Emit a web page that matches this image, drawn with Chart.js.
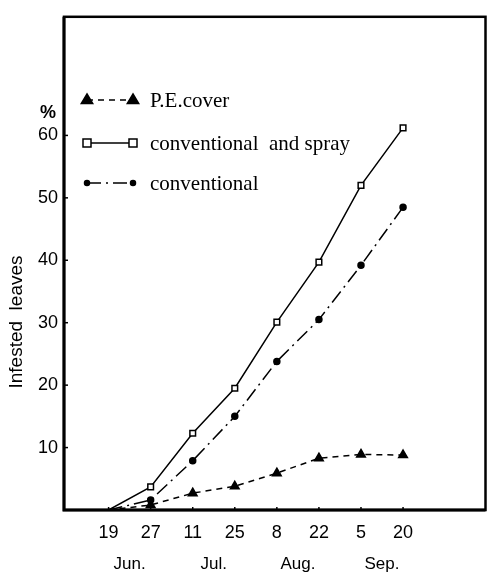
<!DOCTYPE html>
<html lang="en">
<head>
  <meta charset="UTF-8">
  <title>Infested leaves</title>
  <script src="https://cdn.jsdelivr.net/npm/chart.js"></script>
  <style>
    html, body {
      margin: 0;
      padding: 0;
      background: #fff;
    }

    .chart-container {
      position: relative;
      width: 492px;
      height: 575px;
    }
  </style>
</head>
<body>
  <div class="chart-container">
    <canvas id="leafChart"></canvas>
  </div>

  <script>
    // data
    const dayLabels = ['19', '27', '11', '25', '8', '22', '5', '20'];
    const monthLabels = ['Jun.', 'Jul.', 'Aug.', 'Sep.'];
    const yTicks = [10, 20, 30, 40, 50, 60];
    const peCover = [0, 0.8, 2.7, 3.8, 5.9, 8.3, 8.9, 8.8];
    const convSpray = [0, 3.7, 12.3, 19.5, 30.1, 39.7, 52.0, 61.2];
    const conventional = [0, 1.6, 7.9, 15.0, 23.8, 30.5, 39.2, 48.5];

    const sans = "'Liberation Sans', 'DejaVu Sans', sans-serif";
    const serif = "'Liberation Serif', 'DejaVu Serif', serif";

    const toPoints = arr => arr.map((v, i) => ({ x: i, y: v }));
    const firstHidden = (r) => dayLabels.map((_, i) => i === 0 ? 0 : r);

    function drawMarker(ctx, style, x, y, r, fill) {
      ctx.save();
      ctx.setLineDash([]);
      ctx.lineWidth = 1.5;
      ctx.strokeStyle = '#000';
      ctx.fillStyle = fill;
      ctx.beginPath();
      if (style === 'triangle') {
        ctx.moveTo(x, y - r);
        ctx.lineTo(x + r * 0.95, y + r * 0.6);
        ctx.lineTo(x - r * 0.95, y + r * 0.6);
        ctx.closePath();
      } else if (style === 'rect') {
        ctx.rect(x - r, y - r, r * 2, r * 2);
      } else {
        ctx.arc(x, y, r, 0, Math.PI * 2);
      }
      ctx.fill();
      ctx.stroke();
      ctx.restore();
    }

    // box frame, inner ticks, axis title, "%" and the legend inside the plot
    const decorations = {
      id: 'decorations',
      afterDraw(chart) {
        const { ctx, chartArea: a, scales } = chart;
        ctx.save();
        ctx.strokeStyle = '#000';
        ctx.lineWidth = 2.5;
        ctx.strokeRect(a.left, a.top, a.right - a.left, a.bottom - a.top);
        ctx.lineWidth = 3;
        ctx.beginPath();
        ctx.moveTo(a.left, a.top);
        ctx.lineTo(a.left, a.bottom);
        ctx.lineTo(a.right, a.bottom);
        ctx.stroke();

        ctx.lineWidth = 1.5;
        yTicks.forEach(v => {
          const y = scales.y.getPixelForValue(v);
          ctx.beginPath();
          ctx.moveTo(a.left, y);
          ctx.lineTo(a.left + 4, y);
          ctx.stroke();
        });
        dayLabels.forEach((_, i) => {
          const x = scales.x.getPixelForValue(i);
          ctx.beginPath();
          ctx.moveTo(x, a.bottom);
          ctx.lineTo(x, a.bottom - 3);
          ctx.stroke();
        });

        ctx.fillStyle = '#000';
        ctx.font = '19px ' + sans;
        ctx.textAlign = 'center';
        ctx.textBaseline = 'middle';
        ctx.save();
        ctx.translate(17, 322);
        ctx.rotate(-Math.PI / 2);
        ctx.fillText('Infested  leaves', 0, 0);
        ctx.restore();

        ctx.font = 'bold 18px ' + sans;
        ctx.fillText('%', 48, 113);

        // legend
        const rows = [100, 143, 183];
        chart.data.datasets.forEach((ds, i) => {
          const y = rows[i];
          const x1 = 87, x2 = 133;
          ctx.save();
          ctx.lineWidth = 1.5;
          ctx.setLineDash(ds.borderDash || []);
          ctx.beginPath();
          ctx.moveTo(x1, y);
          ctx.lineTo(x2, y);
          ctx.stroke();
          ctx.restore();
          drawMarker(ctx, ds.pointStyle, x1, y, ds.legendRadius, ds.pointBackgroundColor);
          drawMarker(ctx, ds.pointStyle, x2, y, ds.legendRadius, ds.pointBackgroundColor);
          ctx.font = '21px ' + serif;
          ctx.textAlign = 'left';
          ctx.textBaseline = 'middle';
          ctx.fillStyle = '#000';
          ctx.fillText(ds.label, 150, y + 1);
        });
        ctx.restore();
      }
    };

    const ctx = document.getElementById('leafChart').getContext('2d');
    new Chart(ctx, {
      type: 'line',
      data: {
        datasets: [
          {
            label: 'P.E.cover',
            data: toPoints(peCover),
            borderColor: '#000',
            borderWidth: 1.5,
            borderDash: [6, 5],
            pointStyle: 'triangle',
            pointRadius: firstHidden(5),
            pointBackgroundColor: '#000',
            pointBorderColor: '#000',
            legendRadius: 6,
            tension: 0
          },
          {
            label: 'conventional  and spray',
            data: toPoints(convSpray),
            borderColor: '#000',
            borderWidth: 1.5,
            pointStyle: 'rect',
            pointRadius: firstHidden(4),
            pointBackgroundColor: '#fff',
            pointBorderColor: '#000',
            pointBorderWidth: 1.5,
            legendRadius: 4,
            tension: 0
          },
          {
            label: 'conventional',
            data: toPoints(conventional),
            borderColor: '#000',
            borderWidth: 1.5,
            borderDash: [14, 5, 2, 5],
            pointStyle: 'circle',
            pointRadius: firstHidden(3),
            pointBackgroundColor: '#000',
            pointBorderColor: '#000',
            legendRadius: 2.5,
            tension: 0
          }
        ]
      },
      options: {
        responsive: true,
        maintainAspectRatio: false,
        animation: false,
        layout: { padding: { left: 0, top: 15, right: 4, bottom: 0 } },
        scales: {
          x: {
            type: 'linear',
            position: 'bottom',
            min: -1.06,
            max: 8.96,
            weight: 0,
            afterBuildTicks: s => { s.ticks = dayLabels.map((_, i) => ({ value: i })); },
            afterFit: s => { s.height = 38; },
            grid: { display: false, drawTicks: false },
            border: { display: false },
            ticks: {
              callback: v => dayLabels[v],
              autoSkip: false,
              maxRotation: 0,
              padding: 12,
              color: '#000',
              font: { family: sans, size: 18 }
            }
          },
          month: {
            type: 'linear',
            position: 'bottom',
            min: -1.06,
            max: 8.96,
            weight: 1,
            afterBuildTicks: s => { s.ticks = monthLabels.map((_, i) => ({ value: i * 2 + 0.5 })); },
            afterFit: s => { s.height = 27; },
            grid: { display: false, drawTicks: false },
            border: { display: false },
            ticks: {
              callback: v => monthLabels[(v - 0.5) / 2],
              autoSkip: false,
              maxRotation: 0,
              padding: 6,
              color: '#000',
              font: { family: sans, size: 17 }
            }
          },
          y: {
            min: 0,
            max: 79,
            afterBuildTicks: s => { s.ticks = yTicks.map(v => ({ value: v })); },
            afterFit: s => { s.width = 64; },
            grid: { display: false, drawTicks: false },
            border: { display: false },
            ticks: {
              padding: 6,
              color: '#000',
              font: { family: sans, size: 18 }
            }
          }
        },
        plugins: {
          legend: { display: false },
          tooltip: { enabled: false }
        }
      },
      plugins: [decorations]
    });
  </script>
</body>
</html>
